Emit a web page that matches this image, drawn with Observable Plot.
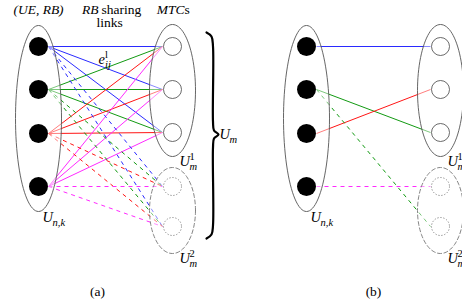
<!DOCTYPE html>
<html><head><meta charset="utf-8">
<script src="https://cdn.jsdelivr.net/npm/d3@7"></script>
<script src="https://cdn.jsdelivr.net/npm/@observablehq/plot@0.6"></script>
<style>body{margin:0;background:#fff}</style>
</head><body><div id="chart"></div>
<script>
// ---- data ----
const panelNames = ["a", "b"];
const ueX = [38, 306];           // x of UE/RB column per panel
const mtcX = [172, 440];         // x of MTC column per panel
const ueY = [46, 89, 133, 186];  // UE/RB nodes
const mtcY = [46, 89, 132];      // MTC nodes in U_m^1
const u2Y = [186, 226];          // MTC nodes in U_m^2
const sources = ["UE1", "UE2", "UE3", "UE4"];
const sourceColors = ["#2a2aff", "#129a12", "#ff1515", "#ff2aff"];
// panel (b) kept links: [source, group, target]
const linksB = [[0, "m", 0], [1, "m", 2], [2, "m", 1], [1, "u", 1], [3, "u", 0]];
// groups (ellipses): [column, cy, rx, ry, kind]
const groups = [["ue", 118, 23, 93, "solid"], ["mtc", 90, 23, 66, "solid"], ["mtc", 210, 23, 43, "dashed"]];
// brace control points
const braceX = [206, 211, 212.5, 212.5, 213.5, 218, 213.5, 212.5, 212.5, 211, 206];
const braceY = [32, 36, 46, 121, 130, 134, 138, 147, 225, 234, 238];
// math labels: [panel, x, baseline, main, sub, sup]
const mathLabels = [
  [0, 42, 221, "U", "n,k", ""],
  [0, 179, 165, "U", "m", "1"],
  [0, 179, 262, "U", "m", "2"],
  [0, 219, 138, "U", "m", ""],
  [0, 98, 63, "e", "ij", "l"],
  [1, 310, 221, "U", "n,k", ""],
  [1, 447, 165, "U", "m", "1"],
  [1, 447, 262, "U", "m", "2"]
];
const mainWidth = {U: 10, e: 6.5};
// header texts: [x, baseline, text, anchor, italic]
const headers = [
  [38, 13, "(UE, RB)", "middle", true],
  [98, 13, "RB", "end", true],
  [101, 13, "sharing", "start", false],
  [109, 26, "links", "middle", false],
  [184, 13, "MTC", "end", true],
  [184, 13, "s", "start", false],
  [97, 295, "(a)", "middle", false],
  [373, 295, "(b)", "middle", false]
];

// ---- derived tables ----
const links = [];
panelNames.forEach((p, pi) => {
  const pairs = pi === 0
    ? sources.flatMap((s, si) => [...mtcY.map((_, ti) => [si, "m", ti]), ...u2Y.map((_, ti) => [si, "u", ti])])
    : linksB;
  pairs.forEach(([si, g, ti]) => links.push({
    src: sources[si],
    x1: ueX[pi] + 10, y1: ueY[si],
    x2: mtcX[pi] - 10, y2: g === "m" ? mtcY[ti] : u2Y[ti],
    dashed: g === "u"
  }));
});
const ellipsePts = [];
panelNames.forEach((p, pi) => groups.forEach(([col, cy, rx, ry, kind], gi) => {
  const cx = col === "ue" ? ueX[pi] : mtcX[pi];
  for (let k = 0; k < 96; k++) {
    const a = 2 * Math.PI * k / 96;
    ellipsePts.push({id: pi + "-" + gi, kind, x: cx + rx * Math.cos(a), y: cy + ry * Math.sin(a)});
  }
}));
const ueNodes = panelNames.flatMap((p, pi) => ueY.map(y => ({x: ueX[pi], y})));
const mtcNodes = panelNames.flatMap((p, pi) => mtcY.map(y => ({x: mtcX[pi], y})));
const u2Nodes = panelNames.flatMap((p, pi) => u2Y.map(y => ({x: mtcX[pi], y})));
const brace = braceX.map((x, i) => ({x, y: braceY[i]}));
const labels = mathLabels.map(([pi, x, y, t, sub, sup]) => ({x, y, t, sub, sup, xs: x + mainWidth[t]}));
const heads = headers.map(([x, y, text, anchor, it]) => ({x, y, text, anchor, it}));

const serif = "Liberation Serif";
const textMark = (data, opts) => Plot.text(data, {textAnchor: "start", lineAnchor: "bottom", fontFamily: serif, fill: "black", ...opts});
const chart = Plot.plot({
  width: 462, height: 306,
  margin: 0,
  x: {domain: [0, 462], range: [0, 462], axis: null},
  y: {domain: [0, 306], range: [0, 306], axis: null},
  color: {domain: sources, range: sourceColors},
  marks: [
    Plot.link(links.filter(d => !d.dashed), {x1: "x1", y1: "y1", x2: "x2", y2: "y2", stroke: "src", strokeWidth: 1}),
    Plot.link(links.filter(d => d.dashed), {x1: "x1", y1: "y1", x2: "x2", y2: "y2", stroke: "src", strokeWidth: 1, strokeDasharray: "4,4"}),
    Plot.line(ellipsePts.filter(d => d.kind === "solid"), {x: "x", y: "y", z: "id", curve: "linear-closed", stroke: "#555", strokeWidth: 0.9, fill: "white", fillOpacity: 0.45}),
    Plot.line(ellipsePts.filter(d => d.kind === "dashed"), {x: "x", y: "y", z: "id", curve: "linear-closed", stroke: "#777", strokeWidth: 0.9, strokeDasharray: "4,2.5", fill: "white", fillOpacity: 0.45}),
    Plot.dot(ueNodes, {x: "x", y: "y", r: 9.5, fill: "black"}),
    Plot.dot(mtcNodes, {x: "x", y: "y", r: 9, fill: "white", stroke: "#444", strokeWidth: 0.8}),
    Plot.dot(u2Nodes, {x: "x", y: "y", r: 9, fill: "white", stroke: "#777", strokeWidth: 0.9, strokeDasharray: "1.2,1.8"}),
    Plot.line(brace, {x: "x", y: "y", curve: "catmull-rom", stroke: "black", strokeWidth: 2.2}),
    textMark(labels, {x: "x", y: "y", text: "t", fontSize: 14.5, fontStyle: "italic"}),
    textMark(labels, {x: "xs", y: "y", text: "sub", dy: 4, fontSize: 10.5, fontStyle: "italic"}),
    textMark(labels, {x: "xs", y: "y", text: "sup", dy: -6, fontSize: 10.5, fontStyle: "normal"}),
    ...["start", "middle", "end"].flatMap(anchor => [true, false].map(it =>
      textMark(heads.filter(d => d.anchor === anchor && d.it === it), {x: "x", y: "y", text: "text", textAnchor: anchor, fontSize: 13.5, fontStyle: it ? "italic" : "normal"})
    ))
  ]
});
d3.select(chart).selectAll("text").attr("font-family", serif).style("font-family", serif);
document.getElementById("chart").append(chart);
</script>
</body></html>
